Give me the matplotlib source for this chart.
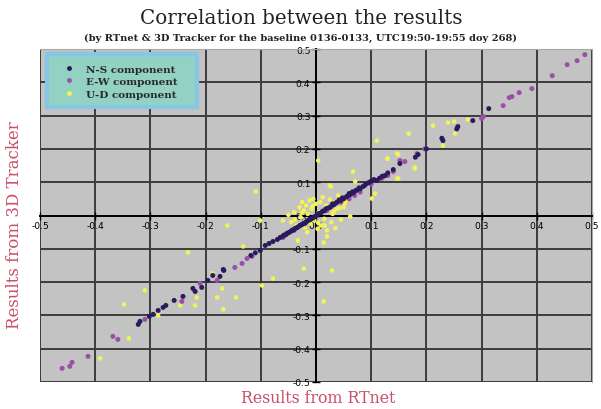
import matplotlib
matplotlib.use("Agg")
import matplotlib.pyplot as plt
from matplotlib.lines import Line2D
from matplotlib.patches import Rectangle

title = "Correlation between the results"
subtitle = "(by RTnet & 3D Tracker for the baseline 0136-0133, UTC19:50-19:55 doy 268)"
xlabel = "Results from RTnet"
ylabel = "Results from 3D Tracker"
ticks = [-0.5, -0.4, -0.3, -0.2, -0.1, 0.0, 0.1, 0.2, 0.3, 0.4, 0.5]
tick_labels = ["-0.5", "-0.4", "-0.3", "-0.2", "-0.1", "0.0", "0.1", "0.2", "0.3", "0.4", "0.5"]
series_names = ["N-S component", "E-W component", "U-D component"]

ns_x = [0.313, 0.284, 0.257, 0.255, 0.230, 0.228, 0.200, 0.185, 0.180, 0.152, 0.140, 0.130,
        0.125, 0.120, 0.115, 0.110, 0.105, 0.100, 0.097, 0.095, 0.090, 0.088, 0.085, 0.080,
        0.078, 0.074, 0.072, 0.068, 0.066, 0.062, 0.060, 0.057, 0.055, 0.050, 0.048, 0.045,
        0.042, 0.038, 0.036, 0.032, 0.030, 0.027, 0.025, 0.021, 0.018, 0.015, 0.012, 0.009,
        0.005, 0.002, -0.002, -0.005, -0.008, -0.010, -0.013, -0.015, -0.018, -0.020, -0.023,
        -0.025, -0.028, -0.030, -0.033, -0.035, -0.038, -0.040, -0.043, -0.045, -0.048, -0.050,
        -0.053, -0.055, -0.058, -0.060, -0.065, -0.070, -0.078, -0.085, -0.092, -0.101, -0.110,
        -0.118, -0.168, -0.187, -0.174, -0.167, -0.196, -0.207, -0.219, -0.223, -0.241, -0.257,
        -0.272, -0.277, -0.286, -0.295, -0.302, -0.319, -0.322]
ns_y = [0.321, 0.285, 0.267, 0.260, 0.225, 0.232, 0.200, 0.183, 0.175, 0.156, 0.138, 0.128,
        0.120, 0.118, 0.112, 0.105, 0.108, 0.103, 0.100, 0.098, 0.094, 0.090, 0.087, 0.080,
        0.083, 0.076, 0.075, 0.068, 0.071, 0.063, 0.066, 0.058, 0.056, 0.050, 0.053, 0.045,
        0.047, 0.040, 0.037, 0.032, 0.035, 0.027, 0.024, 0.022, 0.020, 0.014, 0.013, 0.008,
        0.006, 0.001, -0.003, -0.007, -0.009, -0.012, -0.014, -0.016, -0.020, -0.022, -0.024,
        -0.027, -0.029, -0.031, -0.035, -0.037, -0.039, -0.043, -0.044, -0.047, -0.050, -0.052,
        -0.054, -0.058, -0.059, -0.062, -0.066, -0.072, -0.078, -0.084, -0.090, -0.105, -0.112,
        -0.120, -0.162, -0.180, -0.183, -0.165, -0.195, -0.216, -0.228, -0.219, -0.243, -0.255,
        -0.270, -0.276, -0.285, -0.297, -0.303, -0.318, -0.327]

ew_x = [0.487, 0.473, 0.455, 0.428, 0.391, 0.368, 0.355, 0.350, 0.339, 0.303, 0.300, 0.197,
        0.183, 0.161, 0.152, 0.140, 0.130, 0.120, 0.100, 0.080, 0.070, 0.060, 0.045, 0.020,
        -0.020, -0.040, -0.060, -0.116, -0.125, -0.134, -0.147, -0.179, -0.210, -0.243, -0.310,
        -0.359, -0.368, -0.413, -0.442, -0.446, -0.460]
ew_y = [0.483, 0.465, 0.453, 0.420, 0.381, 0.369, 0.357, 0.354, 0.330, 0.297, 0.291, 0.200,
        0.186, 0.162, 0.165, 0.132, 0.120, 0.112, 0.095, 0.070, 0.060, 0.050, 0.040, 0.015,
        -0.025, -0.045, -0.066, -0.123, -0.129, -0.144, -0.156, -0.195, -0.204, -0.258, -0.312,
        -0.372, -0.363, -0.423, -0.441, -0.453, -0.459]

ud_x = [0.252, 0.275, 0.250, 0.239, 0.212, 0.230, 0.168, 0.129, 0.147, 0.179, 0.147, 0.110,
        0.130, 0.149, 0.179, 0.149, 0.107, 0.101, 0.071, 0.067, 0.004, 0.025, 0.062, 0.027,
        0.020, 0.014, 0.029, 0.014, -0.022, -0.033, -0.060, -0.101, -0.109, -0.132, -0.161,
        -0.078, -0.098, -0.170, -0.145, -0.187, -0.168, -0.179, -0.216, -0.219, -0.246, -0.232,
        -0.286, -0.310, -0.348, -0.339, -0.391,
        -0.045, -0.040, -0.035, -0.030, -0.028, -0.025, -0.022, -0.020, -0.018, -0.015, -0.012,
        -0.010, -0.008, -0.005, -0.003, 0.000, 0.003, 0.005, 0.008, 0.010, 0.012, 0.015,
        0.018, 0.020, 0.022, 0.025, 0.028, 0.030, 0.033, 0.035, 0.038, 0.040, 0.045, 0.050,
        0.055, -0.050, -0.038, -0.026, -0.016, -0.006, 0.004, 0.016, 0.032, 0.042, 0.052]
ud_y = [0.246, 0.288, 0.282, 0.279, 0.270, 0.210, 0.246, 0.171, 0.186, 0.144, 0.111, 0.225,
        0.171, 0.183, 0.141, 0.111, 0.066, 0.051, 0.102, 0.132, 0.165, 0.090, -0.003, 0.087,
        -0.063, -0.081, -0.165, -0.258, -0.159, -0.075, -0.015, -0.015, 0.072, -0.093, -0.030,
        -0.189, -0.210, -0.219, -0.246, -0.174, -0.282, -0.246, -0.246, -0.270, -0.270, -0.111,
        -0.300, -0.225, -0.267, -0.369, -0.429,
        -0.020, 0.010, -0.030, 0.025, -0.005, 0.040, 0.015, -0.035, 0.030, 0.005, 0.045,
        -0.025, 0.020, 0.050, -0.015, 0.035, -0.040, 0.010, 0.040, -0.030, 0.055, -0.010,
        0.030, -0.045, 0.015, 0.048, -0.020, 0.005, 0.038, -0.038, 0.020, 0.060, -0.012,
        0.025, 0.045, 0.002, -0.012, 0.008, -0.050, 0.028, -0.022, -0.030, 0.012, 0.022, 0.035]

serif = ["DejaVu Serif"]
col_ns = "#2b1b5c"
col_ew = "#9c4fa8"
col_ud = "#f2f25a"

fig = plt.figure(figsize=(6.01, 4.10), dpi=100)
ax = fig.add_axes([40 / 601, 1 - 383 / 410, 552 / 601, 333 / 410])
ax.set_facecolor("#c3c3c3")
ax.set_xlim(-0.5, 0.5)
ax.set_ylim(-0.5, 0.5)
ax.set_xticks(ticks)
ax.set_yticks(ticks)
ax.set_xticklabels(tick_labels, family=serif, color="#222222")
ax.set_yticklabels(tick_labels, family=serif, color="#222222")
ax.grid(True, color="#3c3c3c", linewidth=1.4)
ax.set_axisbelow(True)
for side in ["top", "right"]:
    ax.spines[side].set_color("#a8a8a8")
ax.spines["left"].set_position("zero")
ax.spines["bottom"].set_position("zero")
ax.spines["left"].set_linewidth(1.4)
ax.spines["bottom"].set_linewidth(1.4)
ax.tick_params(direction="inout", length=6, width=1, pad=1, labelsize=6.6)

ax.scatter(ud_x, ud_y, s=11, color=col_ud, edgecolors="none", zorder=3)
ax.scatter(ew_x, ew_y, s=13, color=col_ew, edgecolors="none", zorder=4)
ax.scatter(ns_x, ns_y, s=13, color=col_ns, edgecolors="none", zorder=5)

# legend box
box = Rectangle((47 / 601, 1 - 108 / 410), 150 / 601, 53 / 410, transform=fig.transFigure,
                facecolor="#93d2c3", edgecolor="#86c6e6", linewidth=3, zorder=10)
fig.patches.append(box)
handles = [Line2D([], [], marker="o", ls="none", markersize=2.5, color=c) for c in (col_ns, col_ew, col_ud)]
leg = fig.legend(handles, series_names, loc="upper left", bbox_to_anchor=(50 / 601, 1 - 55 / 410),
                 prop={"family": serif, "size": 7.5, "weight": "bold"}, frameon=False,
                 borderpad=0.5, labelspacing=0.3, handletextpad=0.9, handlelength=1.6)
leg.set_zorder(11)
for t in leg.get_texts():
    t.set_color("#2a2a2a")

fig.text(301 / 601, 1 - 19 / 410, title, ha="center", va="center", family=serif, fontsize=14.3, color="#222222")
fig.text(301 / 601, 1 - 38 / 410, subtitle, ha="center", va="center", family=serif, fontsize=7.1, weight="bold", color="#222222")
fig.text(318 / 601, 1 - 399 / 410, xlabel, ha="center", va="center", family=serif, fontsize=11.3, color="#c8506a")
fig.text(15 / 601, 1 - 225 / 410, ylabel, ha="center", va="center", rotation=90, family=serif, fontsize=12, color="#c8506a")

fig.savefig("out.png", dpi=100, facecolor="white")
